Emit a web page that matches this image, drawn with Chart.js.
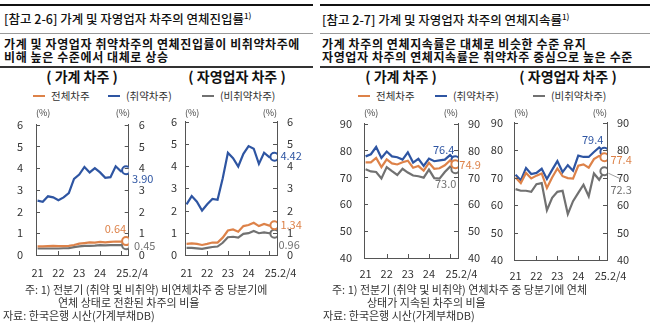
<!DOCTYPE html>
<html>
<head>
<meta charset="utf-8">
<script src="https://cdn.jsdelivr.net/npm/chart.js@4.4.1/dist/chart.umd.min.js"></script>
<style>
  body { margin: 0; width: 650px; height: 331px; position: relative; background: #fff; overflow: hidden;
         font-family: "Noto Sans CJK KR", sans-serif; color: #222; }
  .t { position: absolute; white-space: nowrap; line-height: 1; }
  .c { transform: translateX(-50%); }
  .ttl { font-size: 12.5px; font-weight: 500; color: #111; }
  .sub { font-size: 12px; font-weight: bold; color: #111; letter-spacing: 0.6px; }
  .hd { font-size: 14px; font-weight: bold; color: #111; }
  .nt { font-size: 11px; color: #333; }
  .rule { position: absolute; }
  canvas { position: absolute; }
  sup { font-size: 8px; vertical-align: 5px; line-height: 0; }
  .lg { position: absolute; white-space: nowrap; font-size: 10.5px; line-height: 1; color: #333; }
  .lg i { display: inline-block; width: 12px; height: 2px; vertical-align: 3px; margin-right: 6px; }
</style>
</head>
<body>
<!-- 왼쪽: 연체진입률 -->
<div class="rule" style="left:0;top:4px;width:313px;height:2px;background:#111"></div>
<div class="t ttl" style="left:4px;top:13px">[참고 2-6] 가계 및 자영업자 차주의 연체진입률<sup>1)</sup></div>
<div class="rule" style="left:0;top:33px;width:313px;height:1px;background:#999"></div>
<div class="t sub" style="left:4px;top:38px">가계 및 자영업자 취약차주의 연체진입률이 비취약차주에</div>
<div class="t sub" style="left:4px;top:51px">비해 높은 수준에서 대체로 상승</div>
<div class="rule" style="left:0;top:66px;width:313px;height:2px;background:#333"></div>
<div class="t c hd" style="left:82px;top:69px">( 가계 차주 )</div>
<div class="t c hd" style="left:237px;top:69px">( 자영업자 차주 )</div>
<div id="legL"></div>

<!-- 오른쪽: 연체지속률 -->
<div class="rule" style="left:320px;top:4px;width:330px;height:2px;background:#111"></div>
<div class="t ttl" style="left:322px;top:14px">[참고 2-7] 가계 및 자영업자 차주의 연체지속률<sup>1)</sup></div>
<div class="rule" style="left:320px;top:33px;width:330px;height:1px;background:#999"></div>
<div class="t sub" style="left:322px;top:38px">가계 차주의 연체지속률은 대체로 비슷한 수준 유지</div>
<div class="t sub" style="left:322px;top:51px">자영업자 차주의 연체지속률은 취약차주 중심으로 높은 수준</div>
<div class="rule" style="left:320px;top:66px;width:330px;height:2px;background:#333"></div>
<div class="t c hd" style="left:401px;top:69px">( 가계 차주 )</div>
<div class="t c hd" style="left:568px;top:69px">( 자영업자 차주 )</div>
<div id="legR"></div>

<div id="charts"></div>

<!-- 주석 -->
<div class="t nt" style="left:25px;top:284px">주: 1) 전분기 (취약 및 비취약) 비연체차주 중 당분기에</div>
<div class="t nt" style="left:58px;top:297px">연체 상태로 전환된 차주의 비율</div>
<div class="t nt" style="left:3px;top:310px">자료: 한국은행 시산(가계부채DB)</div>
<div class="t nt" style="left:332px;top:284px">주: 1) 전분기 (취약 및 비취약) 연체차주 중 당분기에 연체</div>
<div class="t nt" style="left:367px;top:297px">상태가 지속된 차주의 비율</div>
<div class="t nt" style="left:323px;top:310px">자료: 한국은행 시산(가계부채DB)</div>

<script>
// 분기: 21.1/4 ~ 25.2/4
const xTickLabels = ['21', '', '', '', '22', '', '', '', '23', '', '', '', '24', '', '', '', '', '     25.2/4'];
const seriesNames = ['전체차주', '(취약차주)', '(비취약차주)'];

// 연체진입률 (%) - 가계
const hhEntryAll  = [0.40, 0.40, 0.41, 0.42, 0.41, 0.41, 0.42, 0.46, 0.52, 0.55, 0.58, 0.57, 0.60, 0.58, 0.60, 0.62, 0.62, 0.64];
const hhEntryVuln = [2.50, 2.45, 2.70, 2.65, 2.52, 2.65, 2.85, 3.50, 3.70, 4.05, 3.80, 4.00, 3.80, 3.55, 3.58, 4.08, 3.85, 3.90];
const hhEntryNon  = [0.30, 0.30, 0.30, 0.30, 0.30, 0.31, 0.32, 0.36, 0.40, 0.42, 0.42, 0.43, 0.45, 0.44, 0.45, 0.46, 0.45, 0.45];
// 연체진입률 (%) - 자영업자
const seEntryAll  = [0.50, 0.52, 0.50, 0.45, 0.50, 0.56, 0.56, 0.78, 1.10, 1.15, 1.05, 1.30, 1.35, 1.45, 1.30, 1.40, 1.32, 1.34];
const seEntryVuln = [2.28, 2.65, 2.40, 2.00, 2.28, 2.52, 2.48, 3.45, 4.60, 4.35, 3.98, 4.55, 4.90, 4.78, 4.10, 4.60, 4.40, 4.42];
const seEntryNon  = [0.32, 0.32, 0.30, 0.28, 0.32, 0.36, 0.38, 0.55, 0.80, 0.82, 0.78, 0.95, 0.98, 1.08, 0.98, 1.02, 0.98, 0.96];
// 연체지속률 (%) - 가계
const hhPersAll  = [75.6, 75.6, 77.2, 73.8, 76.7, 75.2, 74.8, 75.6, 76.2, 73.6, 74.2, 72.5, 75.4, 73.2, 73.4, 74.5, 76.3, 74.9];
const hhPersVuln = [77.8, 78.6, 81.3, 77.2, 79.6, 77.8, 77.5, 76.6, 79.3, 75.5, 76.9, 74.3, 77.0, 76.0, 76.3, 76.6, 78.3, 76.4];
const hhPersNon  = [73.0, 72.2, 72.0, 69.6, 73.8, 72.3, 70.9, 73.2, 71.8, 70.7, 70.4, 69.9, 72.9, 69.7, 69.5, 72.0, 74.0, 73.0];
// 연체지속률 (%) - 자영업자
const sePersAll  = [70.0, 68.0, 71.7, 69.7, 70.7, 71.5, 66.2, 70.0, 73.3, 70.5, 69.8, 69.6, 74.3, 74.8, 73.6, 76.7, 77.9, 77.4];
const sePersVuln = [71.0, 69.0, 73.5, 71.3, 71.7, 73.2, 69.5, 72.8, 76.0, 72.0, 74.5, 72.5, 78.0, 77.5, 77.5, 79.3, 81.0, 79.4];
const sePersNon  = [65.8, 65.2, 65.2, 64.8, 67.6, 68.0, 58.1, 62.6, 64.8, 65.2, 56.7, 61.4, 64.4, 67.4, 63.2, 71.5, 69.2, 72.3];

const colors = ['#DD8249', '#2E55A2', '#717171'];
const axisColor = '#555';
const tickColor = '#333';
const FONT = '"Noto Sans CJK KR", sans-serif';

// 범례
function legend(el, pos, top) {
  el.innerHTML = seriesNames.map((n, k) =>
    `<div class="lg" style="left:${pos[k]}px;top:${top}px"><i style="background:${colors[k]}"></i>${n}</div>`).join('');
}
legend(document.getElementById('legL'), [33, 108, 202], 91);
legend(document.getElementById('legR'), [358, 435, 533], 91);

// 안쪽 눈금
const innerTicks = {
  id: 'innerTicks',
  afterDraw(chart) {
    const { ctx, chartArea: a, scales } = chart;
    ctx.save();
    ctx.strokeStyle = axisColor;
    ctx.lineWidth = 1;
    ctx.beginPath();
    scales.y.ticks.forEach(t => {
      const y = Math.round(scales.y.getPixelForValue(t.value)) + 0.5;
      ctx.moveTo(a.left, y); ctx.lineTo(a.left + 4, y);
      ctx.moveTo(a.right, y); ctx.lineTo(a.right - 4, y);
    });
    scales.x.ticks.forEach(t => {
      if (t.value > 0 && t.value % 4 === 0) {
        const x = Math.round(scales.x.getPixelForValue(t.value)) + 0.5;
        ctx.moveTo(x, a.bottom); ctx.lineTo(x, a.bottom - 4);
      }
    });
    ctx.stroke();
    ctx.restore();
  }
};

// 마지막 값 라벨
const endLabels = {
  id: 'endLabels',
  afterDatasetsDraw(chart, args, opts) {
    const { ctx } = chart;
    ctx.save();
    ctx.font = '11px ' + FONT;
    ctx.textBaseline = 'middle';
    opts.items.forEach((it, k) => {
      const ds = chart.data.datasets[k];
      const meta = chart.getDatasetMeta(k);
      const pt = meta.data[meta.data.length - 1];
      const v = ds.data[ds.data.length - 1].y;
      if (it.leader) {
        ctx.strokeStyle = '#888';
        ctx.lineWidth = 0.8;
        ctx.beginPath();
        ctx.moveTo(pt.x + it.leader[0], pt.y + it.leader[1]);
        ctx.lineTo(pt.x + it.leader[2], pt.y + it.leader[3]);
        ctx.stroke();
      }
      ctx.fillStyle = ds.borderColor;
      ctx.textAlign = it.align;
      ctx.fillText(v.toFixed(opts.digits), pt.x + it.dx, pt.y + it.dy);
    });
    ctx.restore();
  }
};

const panels = [
  { left: 0,   top: 105, w: 160, h: 180, yW: 36, y2W: 30, padTop: 15, xH: 30, yPad: 13, y2Pad: 10, xPad: 11,
    min: 0, max: 6, step: 1, digits: 2, series: [hhEntryAll, hhEntryVuln, hhEntryNon],
    labels: [{ dx: 0, dy: -12, align: 'right' }, { dx: 6, dy: 9, align: 'left' }, { dx: 8, dy: 1, align: 'left' }] },
  { left: 160, top: 105, w: 160, h: 180, yW: 25, y2W: 43, padTop: 14, xH: 30, yPad: 8, y2Pad: 10, xPad: 11,
    min: 0, max: 6, step: 1, digits: 2, series: [seEntryAll, seEntryVuln, seEntryNon],
    labels: [{ dx: 6, dy: 0, align: 'left' }, { dx: 6, dy: -1, align: 'left' }, { dx: 4, dy: 11, align: 'left' }] },
  { left: 325, top: 105, w: 165, h: 180, yW: 39, y2W: 32, padTop: 15, xH: 27, yPad: 12, y2Pad: 10, xPad: 9,
    min: 40, max: 90, step: 10, digits: 1, series: [hhPersAll, hhPersVuln, hhPersNon],
    labels: [{ dx: 4, dy: 1, align: 'left' }, { dx: -1, dy: -10, align: 'right' }, { dx: 1, dy: 15, align: 'right' }] },
  { left: 490, top: 105, w: 160, h: 180, yW: 24, y2W: 43, padTop: 14, xH: 25, yPad: 11, y2Pad: 10, xPad: 9,
    min: 40, max: 90, step: 10, digits: 1, series: [sePersAll, sePersVuln, sePersNon],
    labels: [{ dx: 6, dy: 3, align: 'left' }, { dx: -1, dy: -12, align: 'right' }, { dx: 6, dy: 19, align: 'left', leader: [4, 2, 17, 8] }] }
];

const holder = document.getElementById('charts');
panels.forEach(p => {
  const cv = document.createElement('canvas');
  cv.width = p.w; cv.height = p.h;
  cv.style.left = p.left + 'px'; cv.style.top = p.top + 'px';
  holder.appendChild(cv);

  // (%) 단위 표시
  const u1 = document.createElement('div');
  u1.className = 't';
  u1.style.cssText = `left:${p.left + p.yW}px;top:${p.top + 3}px;font-size:9px;color:#444`;
  u1.textContent = '(%)';
  const u2 = u1.cloneNode(true);
  u2.style.left = ''; u2.style.right = (650 - (p.left + p.w - p.y2W)) + 'px';
  holder.appendChild(u1); holder.appendChild(u2);

  const yAxis = (pos, width, pad) => ({
    position: pos, min: p.min, max: p.max,
    afterFit: s => { s.width = width; },
    grid: { display: false, drawTicks: false },
    border: { display: true, color: axisColor, width: 1 },
    ticks: { stepSize: p.step, padding: pad, color: tickColor, font: { family: FONT, size: 11 } }
  });

  new Chart(cv, {
    type: 'line',
    data: {
      datasets: p.series.map((vals, k) => ({
        label: seriesNames[k],
        data: vals.map((v, i) => ({ x: i, y: v })),
        borderColor: colors[k],
        borderWidth: 2.2,
        tension: 0,
        pointRadius: c => (c.dataIndex === vals.length - 1 ? 4 : 0),
        pointBorderWidth: 2,
        pointBackgroundColor: '#fff',
        pointBorderColor: colors[k],
        yAxisID: 'y'
      }))
    },
    options: {
      responsive: false,
      animation: false,
      devicePixelRatio: 1,
      layout: { padding: { top: p.padTop } },
      plugins: {
        legend: { display: false },
        tooltip: { enabled: false },
        endLabels: { items: p.labels, digits: p.digits }
      },
      scales: {
        x: {
          type: 'linear', min: -0.3, max: 17.5,
          afterFit: s => { s.height = p.xH; },
          grid: { display: false, drawTicks: false },
          border: { display: true, color: axisColor, width: 1 },
          ticks: {
            stepSize: 1, autoSkip: false, maxRotation: 0, includeBounds: false,
            padding: p.xPad, color: tickColor, font: { family: FONT, size: 11 },
            callback: v => xTickLabels[v] ?? ''
          }
        },
        y: yAxis('left', p.yW, p.yPad),
        y2: yAxis('right', p.y2W, p.y2Pad)
      }
    },
    plugins: [innerTicks, endLabels]
  });
});
</script>
</body>
</html>
